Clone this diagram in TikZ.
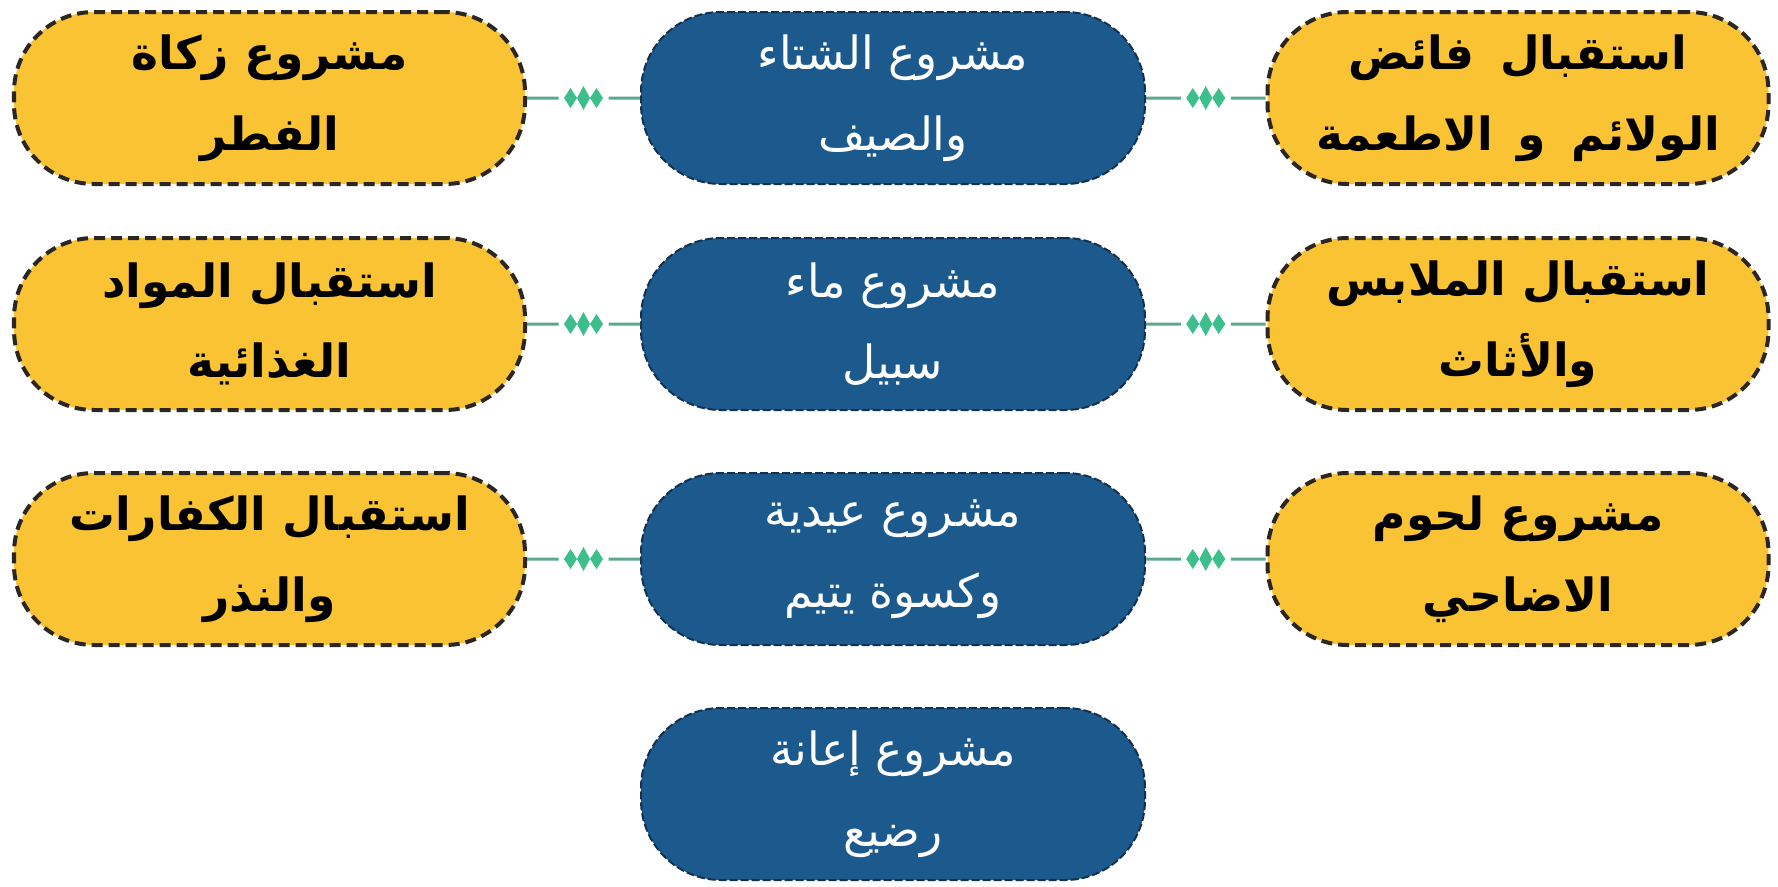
\documentclass[tikz,border=0pt]{standalone}
\usepackage{fontspec}
\usetikzlibrary{calc}
\TeXXeTstate=1
\newfontfamily\arabicfont[Script=Arabic]{DejaVu Sans}
\newfontfamily\arabicbold[Script=Arabic]{DejaVu Sans Bold}
\newcommand\ar[1]{\beginR #1\endR}
\newcommand\wsp{\hspace{0.55em}}
\definecolor{gold}{HTML}{F9C334}
\definecolor{navy}{HTML}{1C5A8E}
\definecolor{rimdark}{HTML}{2B2620}
\definecolor{rimnavy}{HTML}{123050}
\definecolor{linkc}{HTML}{5AA88F}
\definecolor{gemc}{HTML}{3DBF8C}
\tikzset{
  box/.style={rounded corners=1.6cm, minimum width=10.1cm, minimum height=3.44cm, align=center, inner sep=0pt},
  yel/.style={box, fill=gold, draw=rimdark, line width=0.08cm, dash pattern=on 0.22cm off 0.12cm,
     font=\arabicbold\fontsize{26}{46}\selectfont, text=black},
  blu/.style={box, fill=navy, draw=rimnavy, line width=0.04cm, dash pattern=on 0.16cm off 0.06cm,
     font=\arabicfont\fontsize{26}{46}\selectfont, text=white},
  link/.style={draw=linkc, line width=0.06cm},
  gem/.style={fill=gemc}
}
\newcommand\connect[2]{%
  \coordinate (M) at ($(#1.east)!0.5!(#2.west)$);
  \draw[link] (#1.east) -- ([xshift=-0.5cm]M);
  \draw[link] ([xshift=0.5cm]M) -- (#2.west);
  \foreach \dx/\h in {-0.26/0.2,0/0.24,0.26/0.2}
    \fill[gem] ([xshift=\dx cm]M) +(-0.13,0) -- +(0,\h) -- +(0.13,0) -- +(0,-\h) -- cycle;
}
\begin{document}
\begin{tikzpicture}
\useasboundingbox (0,0) rectangle (35.56,-17.72);
% left column
\node[yel, minimum width=10.22cm] (L1) at (5.39,-1.96) {\ar{مشروع زكاة}\\\ar{الفطر}};
\node[yel, minimum width=10.22cm] (L2) at (5.39,-6.48) {\ar{استقبال المواد}\\\ar{الغذائية}};
\node[yel, minimum width=10.22cm] (L3) at (5.39,-11.18) {\ar{استقبال الكفارات}\\\ar{والنذر}};
% centre column
\node[blu, minimum width=10.08cm] (C1) at (17.86,-1.96) {\ar{مشروع الشتاء}\\\ar{والصيف}};
\node[blu, minimum width=10.08cm] (C2) at (17.86,-6.48) {\ar{مشروع ماء}\\\ar{سبيل}};
\node[blu, minimum width=10.08cm] (C3) at (17.86,-11.18) {\ar{مشروع عيدية}\\\ar{وكسوة يتيم}};
\node[blu, minimum width=10.08cm] (C4) at (17.86,-15.88) {\ar{مشروع إعانة}\\\ar{رضيع}};
% right column
\node[yel, minimum width=10.02cm] (R1) at (30.36,-1.96) {\ar{استقبال\wsp فائض}\\\ar{الولائم\wsp و\wsp الاطعمة}};
\node[yel, minimum width=10.02cm] (R2) at (30.36,-6.48) {\ar{استقبال الملابس}\\\ar{والأثاث}};
\node[yel, minimum width=10.02cm] (R3) at (30.36,-11.18) {\ar{مشروع لحوم}\\\ar{الاضاحي}};
% connectors
\connect{L1}{C1}
\connect{C1}{R1}
\connect{L2}{C2}
\connect{C2}{R2}
\connect{L3}{C3}
\connect{C3}{R3}
\end{tikzpicture}
\end{document}
